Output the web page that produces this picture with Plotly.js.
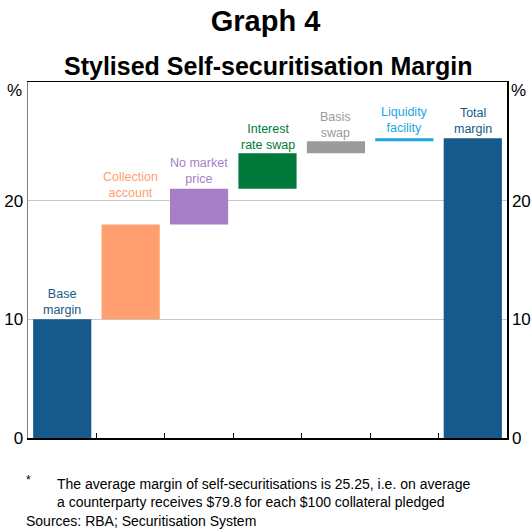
<!DOCTYPE html>
<html>
<head>
<meta charset="utf-8">
<script src="https://cdn.plot.ly/plotly-3.0.1.min.js"></script>
<style>html,body{margin:0;padding:0;background:#fff;}#chart{width:531px;height:529px;}</style>
</head>
<body>
<div id="chart"></div>
<script>
// ---- data ----
const categories = ["Base<br>margin", "Collection<br>account", "No market<br>price", "Interest<br>rate swap", "Basis<br>swap", "Liquidity<br>facility", "Total<br>margin"];
const increments = [10, 8, 3, 3, 1, 0.25];
const totalMargin = 25.25;
const barColors = ["#155a8a", "#ff9e6f", "#a77fc7", "#007a3a", "#9b9b9b", "#1aa7e0", "#155a8a"];
const yTickVals = [0, 10, 20];
const yTickText = ["0", "10", "20"];

// ---- build waterfall as floating bars ----
const xs = categories.map((c, i) => i);
const bases = [];
const heights = [];
let run = 0;
increments.forEach(v => { bases.push(run); heights.push(v); run += v; });
bases.push(0); heights.push(totalMargin);
const tops = bases.map((b, i) => b + heights[i]);

const font = "Arial, 'Liberation Sans', sans-serif";
const labelShift = [0, 22, 1, -1, -1, 1, 0];

const annotations = categories.map((c, i) => ({
  x: xs[i], y: tops[i], xref: "x", yref: "y", text: c, showarrow: false,
  yanchor: "bottom", xanchor: "center", yshift: labelShift[i],
  font: {family: font, size: 12.5, color: barColors[i]}
}));
annotations.push(
  {xref: "paper", yref: "paper", x: 0.5, y: 1, yshift: 16, text: "<b>Stylised Self-securitisation Margin</b>", showarrow: false, xanchor: "center", yanchor: "middle", font: {family: font, size: 25, color: "#000"}},
  {xref: "paper", yref: "paper", x: 0, xshift: -4, y: 1, yshift: -8, text: "%", showarrow: false, xanchor: "right", yanchor: "middle", font: {family: font, size: 17, color: "#000"}},
  {xref: "paper", yref: "paper", x: 1, xshift: 2, y: 1, yshift: -8, text: "%", showarrow: false, xanchor: "left", yanchor: "middle", font: {family: font, size: 17, color: "#000"}},
  {xref: "paper", yref: "paper", x: 0, xshift: -4, y: 0, yshift: -42, text: "*", showarrow: false, xanchor: "left", yanchor: "middle", font: {family: font, size: 12, color: "#000"}},
  {xref: "paper", yref: "paper", x: 0, xshift: 27, y: 0, yshift: -55, text: "The average margin of self-securitisations is 25.25, i.e. on average<br>a counterparty receives $79.8 for each $100 collateral pledged", align: "left", showarrow: false, xanchor: "left", yanchor: "middle", font: {family: font, size: 14, color: "#000"}},
  {xref: "paper", yref: "paper", x: 0, xshift: -4, y: 0, yshift: -83, text: "Sources: RBA; Securitisation System", align: "left", showarrow: false, xanchor: "left", yanchor: "middle", font: {family: font, size: 14, color: "#000"}}
);

const trace = {
  type: "bar", x: xs, y: heights, base: bases, width: 0.85,
  marker: {color: barColors, line: {width: 0}},
  hoverinfo: "skip"
};
const ghost = {type: "scatter", x: [0], y: [0], yaxis: "y2", mode: "markers", marker: {opacity: 0}, showlegend: false, hoverinfo: "skip"};

const layout = {
  width: 531, height: 529,
  margin: {l: 28, r: 24, t: 82, b: 91},
  paper_bgcolor: "#fff", plot_bgcolor: "#fff",
  showlegend: false,
  title: {text: "<b>Graph 4</b>", x: 0.5, xanchor: "center", y: 0.96, yanchor: "middle", font: {family: font, size: 29, color: "#000"}},
  xaxis: {range: [-0.5, 6.5], tickvals: [0.5, 1.5, 2.5, 3.5, 4.5, 5.5], ticktext: ["", "", "", "", "", ""], ticks: "inside", ticklen: 5, tickcolor: "#000", showgrid: false, zeroline: false, showline: true, linecolor: "#000", linewidth: 1.5, mirror: true, fixedrange: true},
  yaxis: {range: [0, 30], tickvals: yTickVals, ticktext: yTickText, ticks: "", showgrid: true, gridcolor: "#c8c8c8", gridwidth: 1.5, zeroline: false, showline: true, linecolor: "#808080", linewidth: 1.5, tickfont: {family: font, size: 17, color: "#000"}, fixedrange: true},
  yaxis2: {range: [0, 30], overlaying: "y", side: "right", tickvals: yTickVals, ticktext: yTickText, ticks: "", showgrid: false, zeroline: false, showline: true, linecolor: "#000", linewidth: 1.5, tickfont: {family: font, size: 17, color: "#000"}, fixedrange: true},
  annotations: annotations
};

Plotly.newPlot("chart", [trace, ghost], layout, {displayModeBar: false, staticPlot: true});
</script>
</body>
</html>
